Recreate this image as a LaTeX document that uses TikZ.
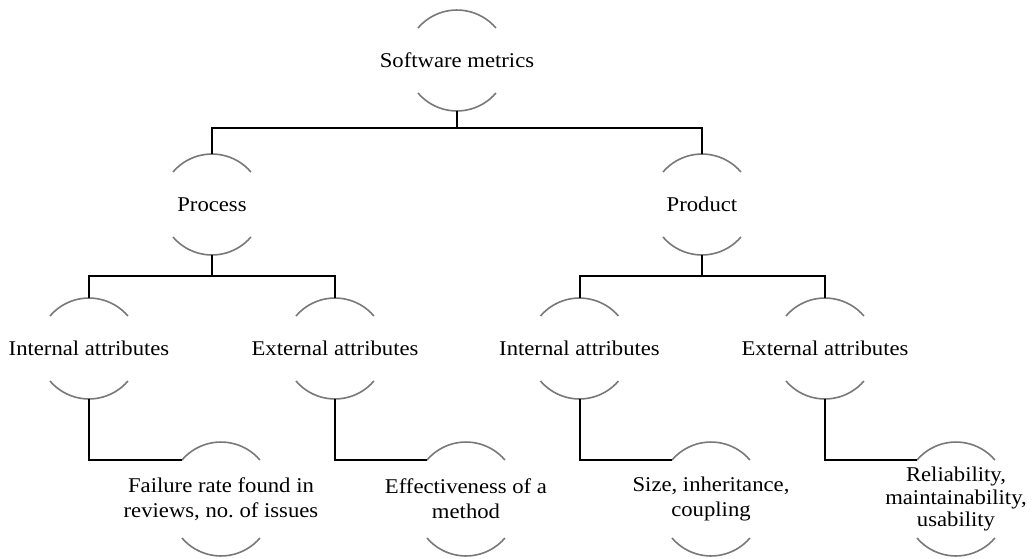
\documentclass[tikz,border=0pt]{standalone}
\usepackage{fontspec}
\setmainfont{Liberation Serif}[FakeStretch=1.08]
\frenchspacing
\usetikzlibrary{calc}
\definecolor{arcgray}{RGB}{120,120,120}
\tikzset{
  label/.style={inner sep=0pt, align=center, font=\fontsize{21}{25}\selectfont},
  arcline/.style={draw=arcgray, line width=1.6pt},
  conn/.style={draw=black, line width=2pt}
}
% top and bottom arcs around a node: #1 node name, #2 half the gap between arc ends
\newcommand{\capsarcs}[2]{%
  \draw[arcline] ([xshift=-39pt,yshift=#2pt]#1.center) arc[start angle=139.5,end angle=40.5,radius=51.25pt];
  \draw[arcline] ([xshift=-39pt,yshift=-#2pt]#1.center) arc[start angle=220.5,end angle=319.5,radius=51.25pt];
}
\begin{document}
\begin{tikzpicture}[x=1pt,y=1pt]
  \useasboundingbox (0,0) rectangle (1035,558);

  % tree nodes
  \node[label] (root) at (457,497.5) {Software metrics};
  \node[label] (proc) at (212,353.5) {Process};
  \node[label] (prod) at (702,353.5) {Product};
  \node[label] (pi) at (89,209.5) {Internal attributes};
  \node[label] (pe) at (335,209.5) {External attributes};
  \node[label] (qi) at (579.5,209.5) {Internal attributes};
  \node[label] (qe) at (825,209.5) {External attributes};
  \node[label] (l1) at (221,59) {Failure rate found in\\reviews, no. of issues};
  \node[label] (l2) at (466,59) {Effectiveness of a\\method};
  \node[label] (l3) at (711,59) {Size, inheritance,\\coupling};
  \node[label, font=\fontsize{21}{22.5}\selectfont] (l4) at (956,59) {Reliability,\\maintainability,\\usability};

  % arcs above and below each label
  \foreach \n in {root,proc,prod,pi,pe,qi,qe} {\capsarcs{\n}{32.5}}
  \foreach \n in {l1,l2,l3,l4} {\capsarcs{\n}{39}}

  % branch points
  \coordinate (bus1) at (457,430);
  \coordinate (bus2) at (212,282);
  \coordinate (bus3) at (702,282);

  % connectors
  \draw[conn] ([yshift=-50.5pt]root.center) -- (bus1);
  \draw[conn] ([yshift=50.5pt]proc.center) |- (bus1) -| ([yshift=50.5pt]prod.center);
  \draw[conn] ([yshift=-50.5pt]proc.center) -- (bus2);
  \draw[conn] ([yshift=50.5pt]pi.center) |- (bus2) -| ([yshift=50.5pt]pe.center);
  \draw[conn] ([yshift=-50.5pt]prod.center) -- (bus3);
  \draw[conn] ([yshift=50.5pt]qi.center) |- (bus3) -| ([yshift=50.5pt]qe.center);

  \draw[conn] ([yshift=-50.5pt]pi.center) |- ([xshift=-39pt,yshift=39pt]l1.center);
  \draw[conn] ([yshift=-50.5pt]pe.center) |- ([xshift=-39pt,yshift=39pt]l2.center);
  \draw[conn] ([yshift=-50.5pt]qi.center) |- ([xshift=-39pt,yshift=39pt]l3.center);
  \draw[conn] ([yshift=-50.5pt]qe.center) |- ([xshift=-39pt,yshift=39pt]l4.center);
\end{tikzpicture}
\end{document}
